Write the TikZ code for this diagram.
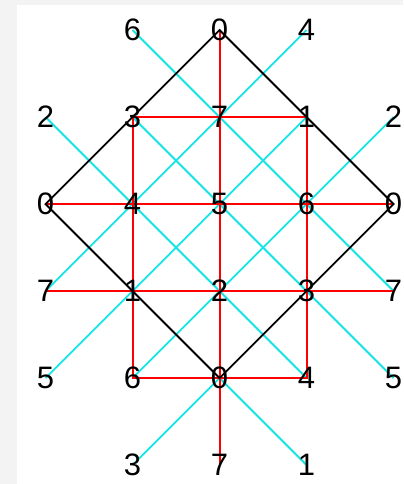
\documentclass[tikz,border=0pt]{standalone}
\usepackage{fontspec}
\setmainfont{Liberation Sans}
\usetikzlibrary{backgrounds}

\definecolor{gridcyan}{RGB}{20,228,228}
\definecolor{pagegray}{RGB}{243,243,243}

\tikzset{
  num/.style={font=\fontsize{31}{31}\selectfont, inner sep=0pt},
  blackline/.style={black, line width=1.8pt},
  redline/.style={red, line width=2pt},
  cyanline/.style={gridcyan, line width=1.8pt}
}

\begin{document}
\begin{tikzpicture}[x=87pt, y=-87pt]
  \useasboundingbox (-0.523,-0.345) rectangle (4.109,5.218);

  % Labels, row by row
  \node[num] (r0c1) at (1,0) {6};
  \node[num] (r0c2) at (2,0) {0};
  \node[num] (r0c3) at (3,0) {4};

  \node[num] (r1c0) at (0,1) {2};
  \node[num] (r1c1) at (1,1) {3};
  \node[num] (r1c2) at (2,1) {7};
  \node[num] (r1c3) at (3,1) {1};
  \node[num] (r1c4) at (4,1) {2};

  \node[num] (r2c0) at (0,2) {0};
  \node[num] (r2c1) at (1,2) {4};
  \node[num] (r2c2) at (2,2) {5};
  \node[num] (r2c3) at (3,2) {6};
  \node[num] (r2c4) at (4,2) {0};

  \node[num] (r3c0) at (0,3) {7};
  \node[num] (r3c1) at (1,3) {1};
  \node[num] (r3c2) at (2,3) {2};
  \node[num] (r3c3) at (3,3) {3};
  \node[num] (r3c4) at (4,3) {7};

  \node[num] (r4c0) at (0,4) {5};
  \node[num] (r4c1) at (1,4) {6};
  \node[num] (r4c2) at (2,4) {0};
  \node[num] (r4c3) at (3,4) {4};
  \node[num] (r4c4) at (4,4) {5};

  \node[num] (r5c1) at (1,5) {3};
  \node[num] (r5c2) at (2,5) {7};
  \node[num] (r5c3) at (3,5) {1};

  \begin{scope}[on background layer]
    % Page
    \fill[pagegray] (-0.523,-0.345) rectangle (4.109,5.218);
    \fill[white] (-0.328,-0.287) rectangle (4.109,5.218);

    % Diagonals
    \draw[cyanline] (r0c1.center) -- (r3c4.center);
    \draw[cyanline] (r0c3.center) -- (r3c0.center);
    \draw[cyanline] (r1c0.center) -- (r4c3.center);
    \draw[cyanline] (r1c4.center) -- (r4c1.center);
    \draw[cyanline] (r1c1.center) -- (r4c4.center);
    \draw[cyanline] (r1c3.center) -- (r4c0.center);
    \draw[cyanline] (r5c1.center) -- (r4c2.center) -- (r5c3.center);

    % Square grid
    \draw[redline] (r0c2.center) -- (r5c2.center);
    \draw[redline] (r2c0.center) -- (r2c4.center);
    \draw[redline] (r3c0.center) -- (r3c4.center);
    \draw[redline] (r1c1.center) -- (r1c3.center) -- (r4c3.center) -- (r4c1.center) -- cycle;

    % Diamond
    \draw[blackline] (r0c2.center) -- (r2c4.center) -- (r4c2.center) -- (r2c0.center) -- cycle;
  \end{scope}
\end{tikzpicture}
\end{document}
